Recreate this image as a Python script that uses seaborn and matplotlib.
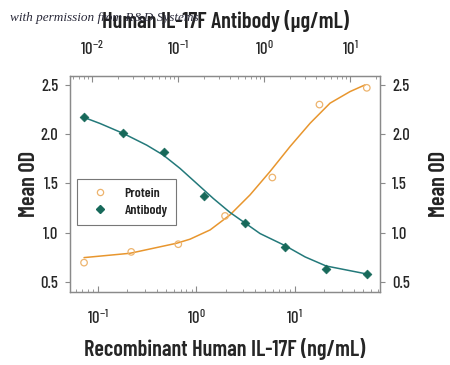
import matplotlib
matplotlib.use("Agg")
import matplotlib.pyplot as plt
import matplotlib.ticker as mticker
from matplotlib.lines import Line2D
import seaborn as sns

# Protein (bottom axis, ng/mL)
protein_conc = [0.073, 0.22, 0.66, 1.97, 5.95, 17.9, 54.1]
protein_od = [0.696, 0.805, 0.883, 1.17, 1.56, 2.30, 2.47]
protein_fit_conc = [0.073, 0.214, 0.637, 0.869, 1.39, 2.21, 3.53, 5.63, 9.0, 14.4, 22.9, 36.6, 52.0]
protein_fit_od = [0.747, 0.791, 0.893, 0.934, 1.028, 1.180, 1.383, 1.620, 1.874, 2.111, 2.314, 2.432, 2.50]

# Antibody (top axis, ug/mL)
antibody_conc = [0.0081, 0.0231, 0.0689, 0.201, 0.601, 1.75, 5.26, 15.6]
antibody_od = [2.178, 2.016, 1.82, 1.37, 1.102, 0.858, 0.632, 0.578]
antibody_fit_conc = [0.0081, 0.0124, 0.0231, 0.0433, 0.0675, 0.1055, 0.165, 0.257, 0.402,
                     0.629, 0.898, 1.75, 3.0, 5.26, 15.6]
antibody_fit_od = [2.169, 2.108, 2.007, 1.888, 1.787, 1.652, 1.499, 1.347, 1.205,
                   1.086, 0.991, 0.869, 0.754, 0.662, 0.581]

ORANGE = "#E8962E"
ORANGE_PT = "#EDB46E"
TEAL = "#23797A"
TEAL_PT = "#17695A"
GRAY = "#8a8a8a"
FONT = ["Barlow Condensed", "DejaVu Sans"]

sns.set_style("white")
plt.rcParams["font.family"] = FONT
plt.rcParams["font.weight"] = 500
plt.rcParams["mathtext.fontset"] = "custom"
plt.rcParams["mathtext.rm"] = "Barlow Condensed:weight=500"
plt.rcParams["mathtext.it"] = "Barlow Condensed:italic"
plt.rcParams["mathtext.bf"] = "Barlow Condensed:bold"
plt.rcParams["text.color"] = "#222222"

fig = plt.figure(figsize=(4.5, 3.65), dpi=100)
ax = fig.add_axes([0.1556, 0.2, 0.689, 0.5918])
ax2 = ax.twiny()

sns.lineplot(x=protein_fit_conc, y=protein_fit_od, color=ORANGE, lw=1.1, ax=ax)
sns.scatterplot(x=protein_conc, y=protein_od, marker="o", s=22, ax=ax,
                edgecolor=ORANGE_PT, linewidth=0.9, zorder=3)
ax.collections[-1].set_facecolor("none")
ax.collections[-1].set_edgecolor(ORANGE_PT)

sns.lineplot(x=antibody_fit_conc, y=antibody_fit_od, color=TEAL, lw=1.1, ax=ax2)
sns.scatterplot(x=antibody_conc, y=antibody_od, marker="D", s=20, ax=ax2,
                color=TEAL_PT, edgecolor=TEAL_PT, linewidth=0.5, zorder=3)

ax.set_xscale("log")
ax2.set_xscale("log")
ax.set_xlim(0.0526, 73.8)
ax2.set_xlim(0.00555, 22.3)
ax.set_ylim(0.398, 2.59)
ax.set_yticks([0.5, 1.0, 1.5, 2.0, 2.5])
ax.yaxis.set_major_formatter(mticker.FormatStrFormatter("%.1f"))

for a in (ax, ax2):
    a.xaxis.set_major_locator(mticker.LogLocator(base=10, numticks=10))
    a.xaxis.set_minor_locator(mticker.LogLocator(base=10, subs=range(2, 10), numticks=10))
    a.xaxis.set_minor_formatter(mticker.NullFormatter())
    for s in a.spines.values():
        s.set_color(GRAY)
        s.set_linewidth(0.9)

ax.tick_params(axis="x", which="major", direction="in", length=4, color=GRAY,
               labelsize=12, pad=12, top=False)
ax.tick_params(axis="x", which="minor", direction="in", length=2.5, color=GRAY, top=False)
ax2.tick_params(axis="x", which="major", direction="in", length=4, color=GRAY,
                labelsize=12, pad=13)
ax2.tick_params(axis="x", which="minor", direction="in", length=2.5, color=GRAY)
ax.tick_params(axis="y", direction="out", length=3.5, color=GRAY, labelsize=12,
               left=True, right=True, labelleft=True, labelright=True, pad=5)

ax.set_xlabel("Recombinant Human IL-17F (ng/mL)", fontsize=16, fontweight=600, labelpad=8)
ax.set_ylabel("Mean OD", fontsize=16, fontweight=600, labelpad=1)
ax2.set_xlabel("")
ax.text(1.19, 0.5, "Mean OD", transform=ax.transAxes, rotation=90, va="center",
        ha="center", fontsize=16, fontweight=600)
fig.text(0.5, 0.943, "Human IL-17F Antibody (\u03bcg/mL)", ha="center", va="center",
         fontsize=16, fontweight=600)
fig.text(0.022, 0.952, "with permission from R&D Systems", ha="left", va="center",
         fontsize=9.5, style="italic", family=["Liberation Serif", "DejaVu Serif"],
         color="#2a2a3a")

handles = [
    Line2D([], [], marker="o", ls="none", markersize=4.5, markerfacecolor="none",
           markeredgecolor=ORANGE_PT, markeredgewidth=0.9),
    Line2D([], [], marker="D", ls="none", markersize=4, color=TEAL_PT),
]
leg = ax.legend(handles, ["Protein", "Antibody"], loc="upper left",
                bbox_to_anchor=(0.0235, 0.523), frameon=True, fancybox=False,
                prop={"weight": 600, "size": 10}, handletextpad=0.8,
                borderpad=0.6, labelspacing=0.3, borderaxespad=0,
                handlelength=2.0)
leg.get_frame().set_edgecolor("#555555")
leg.get_frame().set_linewidth(0.8)

fig.savefig("out.png", dpi=100)
